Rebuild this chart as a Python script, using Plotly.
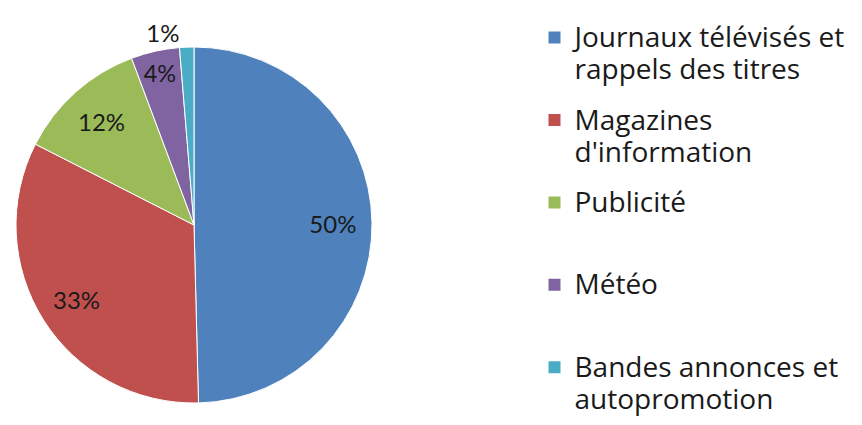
import plotly.graph_objects as go

label_lines = [
    ["Journaux télévisés et", "rappels des titres"],
    ["Magazines", "d'information"],
    ["Publicité", " "],
    ["Météo", " "],
    ["Bandes annonces et", "autopromotion"],
]
values = [49.6, 32.9, 11.8, 4.4, 1.3]
colors = ["#4F81BD", "#C0504D", "#9BBB59", "#8064A2", "#4BACC6"]
text_pos = ["inside", "inside", "inside", "inside", "outside"]

categories = [" ".join(l).strip() for l in label_lines]
legend_labels = [
    "<br>".join(f"<span style='font-size:28px'>{s}</span>" for s in l)
    for l in label_lines
]

W, H = 862, 425
cx, cy, r = 194, 225, 178
dom = dict(x=[(cx - r) / W, (cx + r) / W], y=[(H - cy - r) / H, (H - cy + r) / H])

fig = go.Figure()
# coloured pie
fig.add_trace(go.Pie(
    labels=categories, values=values, sort=False, direction="clockwise", rotation=0,
    marker=dict(colors=colors, line=dict(color="white", width=1)),
    textinfo="none", showlegend=False, hoverinfo="skip", domain=dom,
))
# transparent ring carrying the percentage labels (positions them at ~0.78 r)
fig.add_trace(go.Pie(
    labels=categories, values=values, sort=False, direction="clockwise", rotation=0,
    hole=0.56,
    marker=dict(colors=["rgba(0,0,0,0)"] * len(values), line=dict(width=0)),
    texttemplate="%{percent:.0%}",
    textposition=text_pos,
    insidetextorientation="horizontal",
    textfont=dict(family="Lato", size=24, color="#1a1a1a"),
    showlegend=False, hoverinfo="label+percent", domain=dom,
))

for i, (lab, col) in enumerate(zip(legend_labels, colors)):
    fig.add_trace(go.Scatter(
        x=[None], y=[None], mode="markers", name=lab,
        marker=dict(symbol="square", size=15, color=col),
        legendgroup=f"g{i}", showlegend=True, hoverinfo="skip",
    ))

fig.update_layout(
    width=W, height=H,
    margin=dict(l=0, r=0, t=0, b=0),
    paper_bgcolor="white", plot_bgcolor="white",
    xaxis=dict(visible=False), yaxis=dict(visible=False),
    legend=dict(
        x=534.5 / W, xanchor="left", y=1 - 15 / H, yanchor="top",
        font=dict(family="Open Sans", size=24.6, color="#1a1a1a"),
        tracegroupgap=15.5, valign="top", itemsizing="constant",
        bgcolor="rgba(0,0,0,0)",
    ),
)

fig.write_html("out.html", config={"displayModeBar": False},
               post_script="document.body.style.margin='0';")
